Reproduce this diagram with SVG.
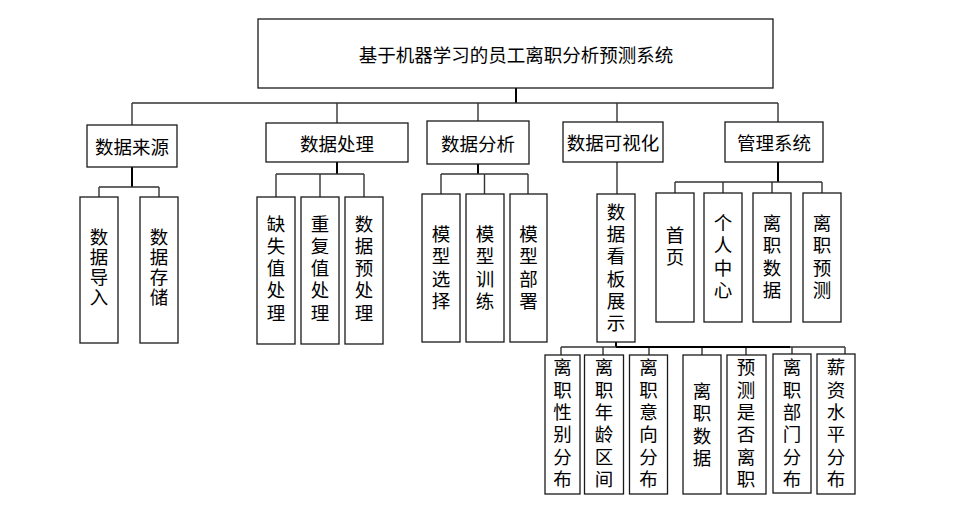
<svg xmlns="http://www.w3.org/2000/svg" width="954" height="513" viewBox="0 0 954 513">
<style>
.box{fill:#fff;stroke:#1a1a1a;stroke-width:1.3}
.t{font-family:"Noto Sans CJK SC","Noto Sans",sans-serif;font-size:18.5px;fill:#000;text-anchor:middle;dominant-baseline:central}
.v{font-family:"Noto Sans CJK SC","Noto Sans",sans-serif;font-size:18.5px;fill:#000;text-anchor:middle;writing-mode:vertical-rl}
.s20{letter-spacing:1.5px}
.s22{letter-spacing:3.8px}
.bus{fill:none;stroke:#333;stroke-width:1.4}
.trunk{fill:none;stroke:#000;stroke-width:2}
</style>
<rect width="954" height="513" fill="#fff"/>
<g id="connectors">
<path class="trunk" d="M516 88V103"/>
<path class="bus" d="M132 103H778M132 103V125M337 103V123M478 103V121M617 103V122M778 103V122"/>
<path class="trunk" d="M132 167V187"/>
<path class="bus" d="M99 187H159M99 187V197M159 187V197"/>
<path class="trunk" d="M337 162V174"/>
<path class="bus" d="M276 174H364M276 174V197M320 174V197M364 174V197"/>
<path class="trunk" d="M478 164V174"/>
<path class="bus" d="M441 174H528M441 174V194M484.5 174V194M528 174V194"/>
<path class="bus" d="M617 162V194"/>
<path class="trunk" d="M778 162V182"/>
<path class="bus" d="M675 182H822M675 182V193M723 182V193M772 182V193M822 182V193"/>
<path class="trunk" d="M616 342V347"/>
<path class="bus" d="M561 347H845M561 347V355M603 347V355M649 347V355M702 347V355M746 347V355M792 347V354M845 347V354"/>
<path class="trunk" d="M616 347H790"/>
</g>
<g id="n0"><rect class="box" x="258" y="19" width="515" height="69"/><text class="t" x="516" y="54">基于机器学习的员工离职分析预测系统</text></g>
<g id="n1"><rect class="box" x="87" y="125" width="90" height="42"/><text class="t" x="132" y="146">数据来源</text></g>
<g id="n2"><rect class="box" x="266" y="123" width="142" height="39"/><text class="t" x="337" y="143">数据处理</text></g>
<g id="n3"><rect class="box" x="427" y="121" width="102" height="43"/><text class="t" x="478" y="142.5">数据分析</text></g>
<g id="n4"><rect class="box" x="563" y="122" width="100" height="40"/><text class="t" x="613" y="142">数据可视化</text></g>
<g id="n5"><rect class="box" x="725" y="122" width="98" height="40"/><text class="t" x="774" y="142">管理系统</text></g>

<g id="n11"><rect class="box" x="80" y="197" width="38" height="146"/><text class="v s20" x="99" y="268">数据导入</text></g>
<g id="n12"><rect class="box" x="140" y="197" width="38" height="146"/><text class="v s20" x="159" y="268">数据存储</text></g>

<g id="n21"><rect class="box" x="257" y="197" width="38" height="147"/><text class="v s22" x="276" y="270">缺失值处理</text></g>
<g id="n22"><rect class="box" x="301" y="197" width="38" height="147"/><text class="v s22" x="320" y="270">重复值处理</text></g>
<g id="n23"><rect class="box" x="345" y="197" width="38" height="147"/><text class="v s22" x="364" y="270">数据预处理</text></g>

<g id="n31"><rect class="box" x="422" y="194" width="38" height="148"/><text class="v s22" x="441" y="269.5">模型选择</text></g>
<g id="n32"><rect class="box" x="466" y="194" width="38" height="148"/><text class="v s22" x="485" y="269.5">模型训练</text></g>
<g id="n33"><rect class="box" x="510" y="194" width="37" height="148"/><text class="v s22" x="528.5" y="269.5">模型部署</text></g>

<g id="n41"><rect class="box" x="597" y="194" width="38" height="148"/><text class="v s22" x="616" y="269.5">数据看板展示</text></g>

<g id="n51"><rect class="box" x="656" y="193" width="38" height="129"/><text class="v s22" x="675" y="248">首页</text></g>
<g id="n52"><rect class="box" x="704" y="193" width="38" height="129"/><text class="v s22" x="723" y="258.5">个人中心</text></g>
<g id="n53"><rect class="box" x="753" y="193" width="38" height="129"/><text class="v s22" x="772" y="258.5">离职数据</text></g>
<g id="n54"><rect class="box" x="803" y="193" width="38" height="129"/><text class="v s22" x="822" y="258.5">离职预测</text></g>

<g id="n411"><rect class="box" x="545" y="355" width="35" height="139"/><text class="v s22" x="562.5" y="425">离职性别分布</text></g>
<g id="n412"><rect class="box" x="584.5" y="355" width="39" height="139"/><text class="v s22" x="604" y="425">离职年龄区间</text></g>
<g id="n413"><rect class="box" x="629.5" y="355" width="38" height="139"/><text class="v s22" x="648.5" y="425">离职意向分布</text></g>
<g id="n414"><rect class="box" x="683" y="355" width="38" height="139"/><text class="v s22" x="702" y="426.5">离职数据</text></g>
<g id="n415"><rect class="box" x="727" y="355" width="39" height="139"/><text class="v s22" x="746" y="425">预测是否离职</text></g>
<g id="n416"><rect class="box" x="773" y="354" width="38" height="139"/><text class="v s22" x="792" y="425">离职部门分布</text></g>
<g id="n417"><rect class="box" x="817" y="354" width="38" height="140"/><text class="v s22" x="836" y="425">薪资水平分布</text></g>
</svg>
